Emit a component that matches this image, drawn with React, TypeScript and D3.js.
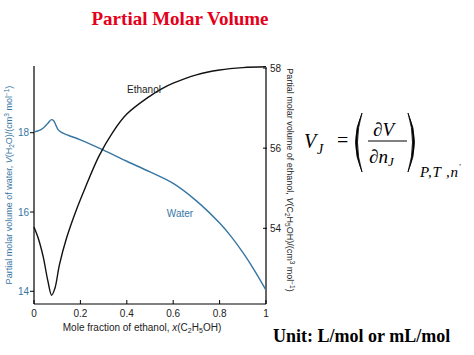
import React from "react";
import * as d3 from "d3";

const xTicks = [0, 0.2, 0.4, 0.6, 0.8, 1];
const xTickLabels = ["0", "0.2", "0.4", "0.6", "0.8", "1"];
const waterTicks = [14, 16, 18];
const ethanolTicks = [54, 56, 58];

const waterX = [0, 0.02, 0.04, 0.06, 0.075, 0.085, 0.095, 0.105, 0.12, 0.15, 0.2, 0.3, 0.4, 0.5, 0.6, 0.7, 0.8, 0.85, 0.9, 0.95, 1.0];
const waterV = [18.02, 18.05, 18.12, 18.24, 18.33, 18.3, 18.18, 18.07, 18.0, 17.93, 17.82, 17.56, 17.28, 17.01, 16.72, 16.28, 15.72, 15.38, 14.98, 14.53, 14.03];

const ethX = [0, 0.02, 0.04, 0.06, 0.076, 0.09, 0.11, 0.14, 0.18, 0.22, 0.28, 0.34, 0.4, 0.5, 0.55, 0.6, 0.7, 0.8, 0.9, 1.0];
const ethV = [54.03, 53.72, 53.28, 52.68, 52.33, 52.5, 53.1, 53.75, 54.42, 55.0, 55.8, 56.4, 56.85, 57.3, 57.48, 57.62, 57.83, 57.95, 58.01, 58.03];

const BLUE = "#3676a3";

export default function App() {
  const left = 34, right = 266, top = 68, bottom = 304;
  const x = d3.scaleLinear().domain([0, 1]).range([left, right]);
  const yW = d3.scaleLinear().domain([14, 18]).range([291.3, 132.7]);
  const yE = d3.scaleLinear().domain([54, 58]).range([228.3, 68]);

  const waterLine = d3.line<number>().x((_, i) => x(waterX[i])).y((d) => yW(d)).curve(d3.curveCatmullRom.alpha(0.5));
  const ethLine = d3.line<number>().x((_, i) => x(ethX[i])).y((d) => yE(d)).curve(d3.curveCatmullRom.alpha(0.5));

  const sans = "Liberation Sans, Arial, sans-serif";
  const serif = "Liberation Serif, Times New Roman, serif";

  return (
    <svg width={474} height={355} style={{ position: "absolute", left: 0, top: 0, background: "#fff" }}>
      <text x={180} y={25} textAnchor="middle" fontFamily={serif} fontWeight="bold" fontSize={19} fill="#e3001b">
        Partial Molar Volume
      </text>

      {/* axes */}
      <line x1={left} y1={66} x2={left} y2={bottom} stroke="#000" strokeWidth={1.2} />
      <line x1={right} y1={top} x2={right} y2={bottom} stroke="#000" strokeWidth={1.2} />
      <line x1={left} y1={bottom} x2={right} y2={bottom} stroke="#000" strokeWidth={1.2} />

      {xTicks.map((t, i) => (
        <g key={"x" + i}>
          <line x1={x(t)} x2={x(t)} y1={bottom} y2={bottom - 4} stroke="#000" strokeWidth={1} />
          <text x={x(t)} y={317} textAnchor="middle" fontFamily={sans} fontSize={10} fill="#222">
            {xTickLabels[i]}
          </text>
        </g>
      ))}
      <text x={142} y={331} textAnchor="middle" fontFamily={sans} fontSize={10} fill="#222">
        Mole fraction of ethanol, <tspan fontStyle="italic">x</tspan>(C
        <tspan dy={2} fontSize={7}>2</tspan>
        <tspan dy={-2}>H</tspan>
        <tspan dy={2} fontSize={7}>5</tspan>
        <tspan dy={-2}>OH)</tspan>
      </text>

      {waterTicks.map((t) => (
        <g key={"w" + t}>
          <line x1={left - 4} x2={left} y1={yW(t)} y2={yW(t)} stroke="#000" strokeWidth={1} />
          <text x={29} y={yW(t) + 3.5} textAnchor="end" fontFamily={sans} fontSize={10} fill={BLUE}>
            {t}
          </text>
        </g>
      ))}
      {ethanolTicks.map((t) => (
        <g key={"e" + t}>
          <line x1={right - 3} x2={right + 1} y1={yE(t)} y2={yE(t)} stroke="#000" strokeWidth={1} />
          <text x={270} y={yE(t) + 3.5} textAnchor="start" fontFamily={sans} fontSize={10} fill="#222">
            {t}
          </text>
        </g>
      ))}

      <text transform="translate(12,185) rotate(-90)" textAnchor="middle" fontFamily={sans} fontSize={9} fill={BLUE}>
        Partial molar volume of water, <tspan fontStyle="italic">V</tspan>(H
        <tspan dy={2} fontSize={6.5}>2</tspan>
        <tspan dy={-2}>O)/(cm</tspan>
        <tspan dy={-3} fontSize={6.5}>3</tspan>
        <tspan dy={3}> mol</tspan>
        <tspan dy={-3} fontSize={6.5}>−1</tspan>
        <tspan dy={3}>)</tspan>
      </text>
      <text transform="translate(287,180) rotate(90)" textAnchor="middle" fontFamily={sans} fontSize={9} fill="#222">
        Partial molar volume of ethanol, <tspan fontStyle="italic">V</tspan>(C
        <tspan dy={2} fontSize={6.5}>2</tspan>
        <tspan dy={-2}>H</tspan>
        <tspan dy={2} fontSize={6.5}>5</tspan>
        <tspan dy={-2}>OH)/(cm</tspan>
        <tspan dy={-3} fontSize={6.5}>3</tspan>
        <tspan dy={3}> mol</tspan>
        <tspan dy={-3} fontSize={6.5}>−1</tspan>
        <tspan dy={3}>)</tspan>
      </text>

      <path d={waterLine(waterV) || ""} fill="none" stroke={BLUE} strokeWidth={1.4} />
      <path d={ethLine(ethV) || ""} fill="none" stroke="#111" strokeWidth={1.4} />

      <text x={144} y={93} textAnchor="middle" fontFamily={sans} fontSize={10} fill="#222">Ethanol</text>
      <text x={180} y={217} textAnchor="middle" fontFamily={sans} fontSize={10} fill={BLUE}>Water</text>

      {/* formula */}
      <g fontFamily={serif} fill="#000">
        <text x={304} y={148} fontSize={20} fontStyle="italic">V</text>
        <text x={317} y={154} fontSize={14} fontStyle="italic">J</text>
        <text x={337} y={147} fontSize={20}>=</text>
        <path d="M362,113 Q349,142 362,172 Q353,142 362,113 Z" fill="#000" stroke="#000" strokeWidth={0.8} />
        <text x={373} y={136} fontSize={19}>∂<tspan fontStyle="italic">V</tspan></text>
        <line x1={368} x2={407} y1={141} y2={141} stroke="#000" strokeWidth={1} />
        <text x={369} y={163} fontSize={19}>∂<tspan fontStyle="italic">n</tspan><tspan fontSize={13} fontStyle="italic" dy={3}>J</tspan></text>
        <path d="M408,113 Q421,142 408,172 Q417,142 408,113 Z" fill="#000" stroke="#000" strokeWidth={0.8} />
        <text x={420} y={177} fontSize={15} fontStyle="italic" letterSpacing={0.8}>P,T ,n<tspan dy={-7} fontSize={8}>'</tspan></text>
      </g>

      <text x={273} y={342} fontFamily={serif} fontWeight="bold" fontSize={18} fill="#000">
        Unit: L/mol or mL/mol
      </text>
    </svg>
  );
}
